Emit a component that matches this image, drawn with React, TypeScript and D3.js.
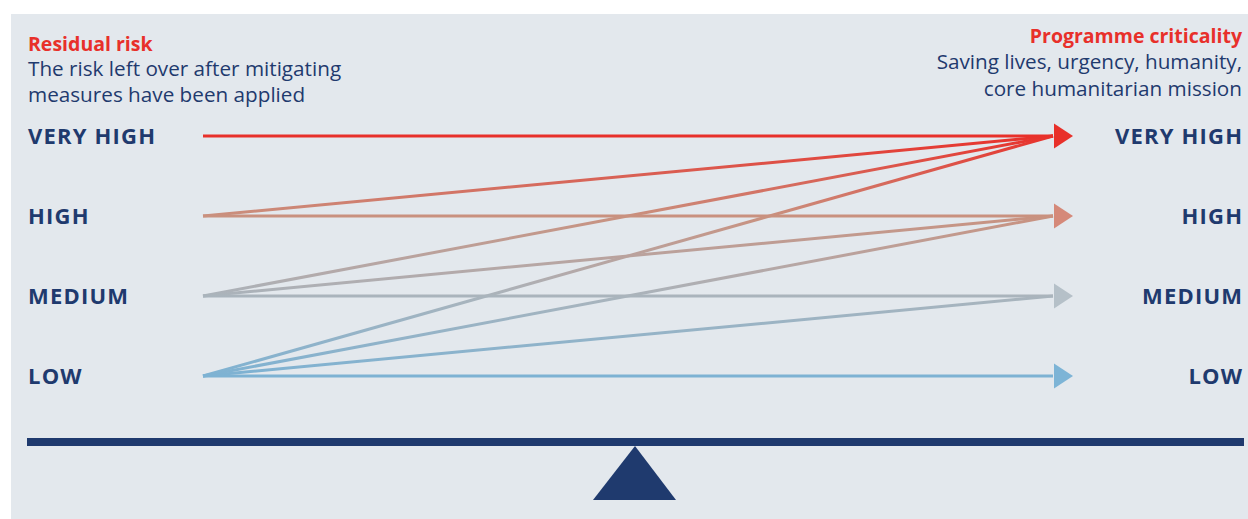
import React from "react";
import * as d3 from "d3";

const levels = ["VERY HIGH", "HIGH", "MEDIUM", "LOW"];
const lineColors = ["#e8302a", "#c9917f", "#aab4bc", "#7db2d3"];
const arrowColors = ["#e8302a", "#d58979", "#b5c0c8", "#7db4d6"];
// connections: [residual risk level index, programme criticality level index]
const links: [number, number][] = [
  [0, 0],
  [1, 0], [1, 1],
  [2, 0], [2, 1], [2, 2],
  [3, 0], [3, 1], [3, 2], [3, 3],
];
const leftTitle = "Residual risk";
const leftSubtitle = ["The risk left over after mitigating", "measures have been applied"];
const rightTitle = "Programme criticality";
const rightSubtitle = ["Saving lives, urgency, humanity,", "core humanitarian mission"];

const W = 1248;
const H = 519;
const NAVY = "#1f3a6e";
const RED = "#e8302a";
const FONT = "'Open Sans', sans-serif";
const LS = 1.2;

export default function App() {
  const y = d3.scalePoint<string>().domain(levels).range([136, 376]);
  const x = d3.scaleLinear().domain([0, 1]).range([203, 1055]);
  const arrowLen = 19;
  const arrowHalf = 12.5;

  return (
    <svg
      width={W}
      height={H}
      style={{ position: "absolute", left: 0, top: 0, fontFamily: FONT }}
    >
      <defs>
        <linearGradient
          id="vgrad"
          gradientUnits="userSpaceOnUse"
          x1={0}
          x2={0}
          y1={y(levels[0])}
          y2={y(levels[levels.length - 1])}
        >
          {lineColors.map((c, i) => (
            <stop key={i} offset={`${(i / (lineColors.length - 1)) * 100}%`} stopColor={c} />
          ))}
        </linearGradient>
      </defs>
      <rect x={0} y={0} width={W} height={H} fill="#ffffff" />
      <rect x={11} y={14} width={W - 11} height={H - 14} fill="#e3e8ed" />

      {/* headers */}
      <text x={28} y={50.5} fill={RED} fontWeight={700} fontSize={19.5}>
        {leftTitle}
      </text>
      {leftSubtitle.map((s, i) => (
        <text key={i} x={28} y={76 + i * 26} fill={NAVY} fontSize={20.7}>
          {s}
        </text>
      ))}
      <text x={1242} y={43} fill={RED} fontWeight={700} fontSize={19.5} textAnchor="end">
        {rightTitle}
      </text>
      {rightSubtitle.map((s, i) => (
        <text key={i} x={1242} y={69 + i * 27} fill={NAVY} fontSize={20.7} textAnchor="end">
          {s}
        </text>
      ))}

      {/* level labels */}
      {levels.map((l) => (
        <g key={l}>
          <text x={28} y={(y(l) as number) + 7.8} fill={NAVY} fontWeight={700} fontSize={22} letterSpacing={LS}>
            {l}
          </text>
          <text x={1242 + LS} y={(y(l) as number) + 7.8} fill={NAVY} fontWeight={700} fontSize={22} letterSpacing={LS} textAnchor="end">
            {l}
          </text>
        </g>
      ))}

      {/* links */}
      {links.map(([s, t], i) => (
        <line
          key={i}
          x1={x(0)}
          y1={y(levels[s])}
          x2={x(1) - 2}
          y2={y(levels[t])}
          stroke="url(#vgrad)"
          strokeWidth={3}
        />
      ))}

      {/* arrowheads */}
      {levels.map((l, i) => {
        const yy = y(l) as number;
        const bx = x(1) - 1;
        return (
          <path
            key={l}
            d={`M${bx},${yy - arrowHalf}L${bx + arrowLen},${yy}L${bx},${yy + arrowHalf}Z`}
            fill={arrowColors[i]}
          />
        );
      })}

      {/* balance beam */}
      <rect x={27} y={438} width={1217} height={8} fill={NAVY} />
      <path d="M635,446L676,500L593,500Z" fill={NAVY} />
    </svg>
  );
}
